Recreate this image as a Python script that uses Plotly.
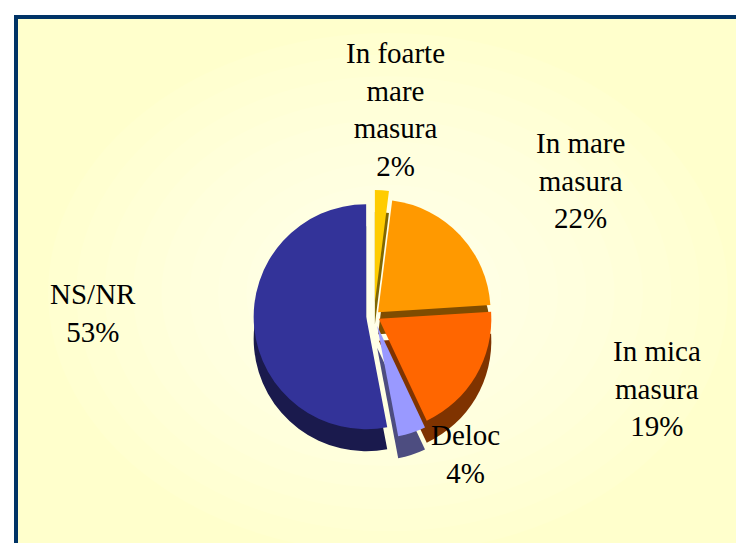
import plotly.graph_objects as go

labels = ["In foarte<br>mare<br>masura", "In mare<br>masura", "In mica<br>masura", "Deloc", "NS/NR"]
values = [2, 22, 19, 4, 53]
top_colors = ["#FFCC00", "#FF9900", "#FF6600", "#9999FF", "#333399"]
side_colors = ["#806600", "#7F4C00", "#7F3300", "#4D4D80", "#1A1A4D"]
pulls = [0.12, 0.05, 0.05, 0.09, 0.07]
# label anchor positions (pixels from top-left of the figure)
label_px = [(387, 102), (572, 173), (649, 380), (457, 446), (85, 305)]

W, H = 744, 543
cx, cy, r = 366, 308, 126
depth = 22
FONT = "Liberation Serif, Times New Roman, serif"

def dom(shift=0):
    return dict(x=[(cx - r) / W, (cx + r) / W],
                y=[1 - (cy + r + shift) / H, 1 - (cy - r + shift) / H])

fig = go.Figure()
# side (depth) layer
fig.add_trace(go.Pie(
    labels=labels, values=values, sort=False, direction="clockwise", rotation=0,
    pull=pulls, marker=dict(colors=side_colors, line=dict(width=0)),
    textinfo="none", hoverinfo="skip", showlegend=False, domain=dom(depth),
))
# top face
fig.add_trace(go.Pie(
    labels=labels, values=values, sort=False, direction="clockwise", rotation=0,
    pull=pulls, marker=dict(colors=top_colors, line=dict(width=0)),
    textinfo="none", showlegend=False, domain=dom(0),
))

total = sum(values)
annotations = []
for lab, v, (px, py) in zip(labels, values, label_px):
    annotations.append(dict(
        x=px / W, y=1 - py / H, xref="paper", yref="paper",
        text=f"{lab}<br>{round(100 * v / total)}%", showarrow=False,
        xanchor="center", yanchor="middle", align="center",
        font=dict(family=FONT, size=29, color="black"),
    ))

shapes = [dict(type="rect", xref="paper", yref="paper", x0=8 / W, x1=1.05, y0=-0.05, y1=1 - 9 / H,
               fillcolor="#FFFFCC", line=dict(color="#003366", width=4), layer="below")]
gx, gy = 380 / W, 1 - 285 / H
for i in range(12):
    f = 1 - i / 12
    rx, ry = 340 * f / W, 260 * f / H
    shapes.append(dict(type="circle", xref="paper", yref="paper",
                       x0=gx - rx, x1=gx + rx, y0=gy - ry, y1=gy + ry,
                       fillcolor="white", opacity=0.08, line=dict(width=0), layer="below"))

fig.update_layout(
    width=W, height=H, margin=dict(l=0, r=0, t=0, b=0, autoexpand=False),
    paper_bgcolor="white", plot_bgcolor="white", shapes=shapes, annotations=annotations,
    font=dict(family=FONT, size=29, color="black"),
)
fig.write_html("out.html")
